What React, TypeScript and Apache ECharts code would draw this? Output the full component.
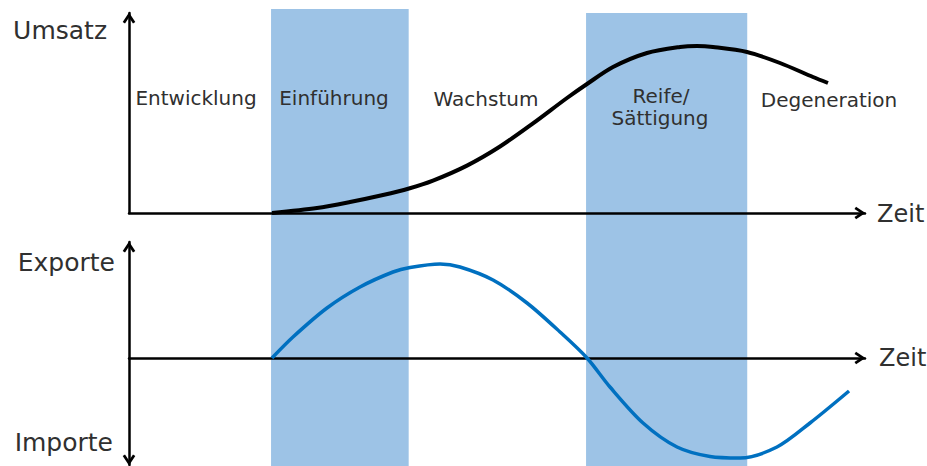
import React, { useEffect, useRef } from "react";
import * as echarts from "echarts";

// Phase shading (time units, 0..100 on the Zeit axis)
const shadedStart = [19.3, 62.1];
const shadedEnd = [38.0, 84.0];
const shadedTop = [100, 99.1];

// Upper panel: Umsatz over time (0..100)
const salesTime = [19.43, 25.54, 30.03, 34.51, 38.04, 41.3, 45.92, 50.41, 54.89, 59.51, 62.23, 65.76, 70.38, 74.86, 77.17, 79.35, 83.97, 88.45, 92.93, 94.97];
const salesValue = [0, 2.5, 5.5, 9, 12.25, 16.2, 23.7, 33.25, 44.8, 57.5, 64.5, 73, 80, 83, 83.5, 83, 80.5, 75, 68, 65];

// Lower panel: Exporte (+) / Importe (-)
const tradeTime = [19.43, 22.28, 26.9, 31.39, 35.87, 38.18, 42.26, 44.97, 49.46, 54.08, 58.56, 62.23, 65.35, 69.84, 74.46, 78.94, 83.02, 88.04, 92.53, 97.83];
const tradeValue = [0, 21, 50, 71, 86, 90.5, 94, 91, 78, 55, 26, 0, -29, -65, -89, -98.5, -100, -89, -65, -33];

const phaseLabels = ["Entwicklung", "Einführung", "Wachstum", "Reife/", "Sättigung", "Degeneration"];
const axisTitles = ["Umsatz", "Exporte", "Importe", "Zeit"];

const ARROW = "path://M50,0 L100,75 L81.7,87.2 L50,39.6 L18.3,87.2 L0,75 Z";
const FONT = '"DejaVu Sans", sans-serif';
const TXT = "#303030";

export default function App() {
  const ref = useRef<HTMLDivElement>(null);
  useEffect(() => {
    if (!ref.current) return;
    const chart = echarts.init(ref.current, undefined, { renderer: "svg" });

    const axisLineBase = (symbol: string[], offset: number[]) => ({
      show: true,
      onZero: true,
      symbol,
      symbolSize: [13, 11],
      symbolOffset: offset,
      lineStyle: { color: "#000", width: 2.5 },
    });
    const hidden = { axisTick: { show: false }, axisLabel: { show: false }, splitLine: { show: false } };

    const txt = (text: string, x: number, y: number, size: number, align: string) => ({
      type: "text",
      x,
      y,
      z: 10,
      style: { text, font: `${size}px ${FONT}`, fill: TXT, align, verticalAlign: "middle" },
    });

    const option: any = {
      animation: false,
      backgroundColor: "#fff",
      grid: [
        { left: 129, right: 62, top: 13, bottom: 253 },
        { left: 129, right: 62, top: 242, bottom: 1 },
        { left: 129, right: 62, top: 9, bottom: 0 },
      ],
      xAxis: [
        { gridIndex: 0, type: "value", min: 0, max: 100, z: 3, axisLine: axisLineBase(["none", ARROW], [0, -5]), ...hidden },
        { gridIndex: 1, type: "value", min: 0, max: 100, z: 3, axisLine: axisLineBase(["none", ARROW], [0, -5]), ...hidden },
        { gridIndex: 2, type: "value", min: 0, max: 100, show: false },
      ],
      yAxis: [
        { gridIndex: 0, type: "value", min: 0, max: 100, z: 3, axisLine: axisLineBase(["none", ARROW], [0, -5]), ...hidden },
        { gridIndex: 1, type: "value", min: -107, max: 116, z: 3, axisLine: axisLineBase([ARROW, ARROW], [5, -5]), ...hidden },
        { gridIndex: 2, type: "value", min: 0, max: 100, show: false },
      ],
      series: [
        {
          type: "line",
          xAxisIndex: 2,
          yAxisIndex: 2,
          data: [],
          silent: true,
          z: 1,
          markArea: {
            silent: true,
            itemStyle: { color: "#9DC3E6", opacity: 1 },
            data: shadedStart.map((s, i) => [
              { xAxis: s, yAxis: shadedTop[i] },
              { xAxis: shadedEnd[i], yAxis: 0 },
            ]),
          },
        },
        {
          type: "line",
          xAxisIndex: 0,
          yAxisIndex: 0,
          data: salesTime.map((t, i) => [t, salesValue[i]]),
          smooth: 0.3,
          symbol: "none",
          lineStyle: { color: "#000", width: 4 },
          z: 5,
        },
        {
          type: "line",
          xAxisIndex: 1,
          yAxisIndex: 1,
          data: tradeTime.map((t, i) => [t, tradeValue[i]]),
          smooth: 0.3,
          symbol: "none",
          lineStyle: { color: "#0070C0", width: 3.5 },
          z: 5,
        },
      ],
      graphic: [
        txt(axisTitles[0], 107, 30, 25, "right"),
        txt(axisTitles[1], 115, 262, 25, "right"),
        txt(axisTitles[2], 113, 442, 25, "right"),
        txt(axisTitles[3], 877, 214, 24, "left"),
        txt(axisTitles[3], 879, 358, 24, "left"),
        txt(phaseLabels[0], 196, 98, 20, "center"),
        txt(phaseLabels[1], 334, 98, 20, "center"),
        txt(phaseLabels[2], 486, 99, 20, "center"),
        txt(phaseLabels[3], 661, 96, 20, "center"),
        txt(phaseLabels[4], 660, 118, 20, "center"),
        txt(phaseLabels[5], 829, 100, 20, "center"),
      ],
    };
    chart.setOption(option);
    return () => chart.dispose();
  }, []);
  return <div ref={ref} style={{ position: "fixed", left: 0, top: 0, width: 927, height: 466 }} />;
}
